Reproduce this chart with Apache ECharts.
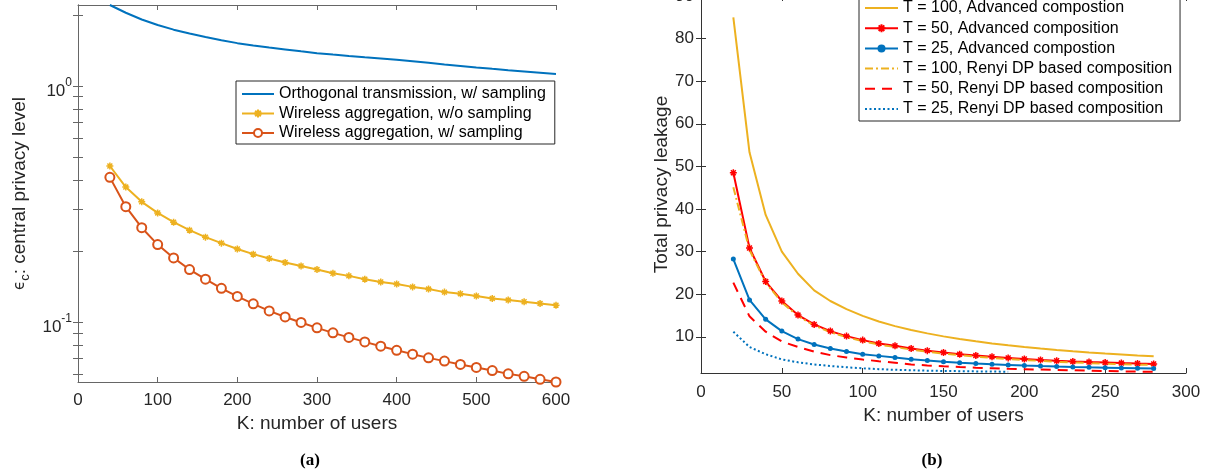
<!DOCTYPE html>
<html>
<head>
<meta charset="utf-8">
<script src="https://cdn.jsdelivr.net/npm/echarts@6/dist/echarts.min.js"></script>
<style>
  html, body { margin: 0; padding: 0; background: #ffffff; }
  #chart { width: 1211px; height: 476px; }
</style>
</head>
<body>
<div id="chart"></div>
<script>
// (a) central privacy level vs number of users
const usersA = [40, 60, 80, 100, 120, 140, 160, 180, 200, 220, 240, 260, 280, 300, 320,
  340, 360, 380, 400, 420, 440, 460, 480, 500, 520, 540, 560, 580, 600]
const orthoSampling = [2.20, 2.04, 1.91, 1.81, 1.73, 1.665, 1.61, 1.56, 1.517, 1.484, 1.454,
  1.427, 1.401, 1.376, 1.357, 1.339, 1.322, 1.306, 1.29, 1.271, 1.252, 1.233, 1.215, 1.197,
  1.181, 1.166, 1.152, 1.138, 1.124]
const wirelessNoSampling = [0.458, 0.373, 0.323, 0.290, 0.265, 0.245, 0.229, 0.216, 0.204,
  0.194, 0.186, 0.179, 0.173, 0.167, 0.161, 0.157, 0.152, 0.148, 0.145, 0.141, 0.138, 0.134,
  0.132, 0.129, 0.126, 0.124, 0.122, 0.120, 0.118]
const wirelessSampling = [0.410, 0.308, 0.251, 0.213, 0.187, 0.167, 0.152, 0.139, 0.1285,
  0.1195, 0.1116, 0.1052, 0.0997, 0.0946, 0.0901, 0.0862, 0.0825, 0.0791, 0.0760, 0.0732,
  0.0706, 0.0684, 0.0662, 0.0643, 0.0624, 0.0604, 0.0590, 0.0573, 0.0558]
const ticksA = [0.1, 1]
const minorTicksA = [0.06, 0.07, 0.08, 0.09, 0.1, 0.2, 0.3, 0.4, 0.5, 0.6, 0.7, 0.8, 0.9, 1, 2]

// (b) total privacy leakage vs number of users
const usersB = [20, 30, 40, 50, 60, 70, 80, 90, 100, 110, 120, 130, 140, 150, 160, 170, 180,
  190, 200, 210, 220, 230, 240, 250, 260, 270, 280]
const t100Adv = [85.0, 53.3, 38.6, 30.0, 24.8, 20.9, 18.4, 16.5, 14.9, 13.6, 12.5, 11.6, 10.8,
  10.1, 9.5, 8.94, 8.44, 8.0, 7.6, 7.24, 6.9, 6.6, 6.33, 6.08, 5.85, 5.63, 5.43]
const t50Adv = [48.5, 30.85, 22.97, 18.4, 15.1, 12.9, 11.34, 10.16, 9.22, 8.44, 7.88, 7.26,
  6.75, 6.3, 5.92, 5.6, 5.3, 5.05, 4.8, 4.58, 4.38, 4.22, 4.07, 3.95, 3.83, 3.72, 3.64]
const t25Adv = [28.25, 18.66, 14.1, 11.34, 9.46, 8.2, 7.26, 6.55, 5.92, 5.52, 5.14, 4.75, 4.43,
  4.15, 3.92, 3.72, 3.55, 3.4, 3.26, 3.14, 3.03, 2.93, 2.84, 2.76, 2.68, 2.61, 2.55]
const t100Renyi = [45.1, 30.4, 22.7, 18.1, 14.85, 12.65, 11.08, 9.9, 8.96, 8.18, 7.6, 7.0, 6.5,
  6.05, 5.67, 5.35, 5.05, 4.8, 4.56, 4.34, 4.14, 3.98, 3.83, 3.7, 3.58, 3.47, 3.38]
const t50Renyi = [22.7, 14.8, 11.2, 8.9, 7.6, 6.5, 5.7, 5.14, 4.67, 4.27, 3.9, 3.5, 3.28, 3.08,
  2.9, 2.75, 2.62, 2.5, 2.4, 2.3, 2.21, 2.13, 2.05, 1.98, 1.9, 1.83, 1.76]
const t25Renyi = [11.2, 7.6, 5.9, 4.7, 4.0, 3.5, 3.15, 2.85, 2.6, 2.4, 2.25, 2.15, 2.05, 1.98,
  1.93, 1.88, 1.84, 1.8]
const ticksB = [10, 20, 30, 40, 50, 60, 70, 80, 90]

const FONT = '"Liberation Sans", Arial, Helvetica, sans-serif'
const SERIF = '"Liberation Serif", "Times New Roman", serif'
const BLUE = '#0072BD'
const ORANGE = '#D95319'
const YELLOW = '#EDB120'
const RED = '#FF0000'
const STAR = 'path://M-5,0L5,0M0,-5L0,5M-3.5,-3.5L3.5,3.5M-3.5,3.5L3.5,-3.5'

const pairs = (xs, ys) => ys.map((y, i) => [xs[i], y])
// legend entry for a plain line: hide the marker in the legend icon
const lineOnly = name => ({ name: name, itemStyle: { opacity: 0 } })

const chart = echarts.init(document.getElementById('chart'))

const tickLabel = { fontFamily: FONT, fontSize: 17, color: '#262626' }
const legendText = { fontFamily: FONT, fontSize: 16, color: '#000' }

chart.setOption({
  animation: false,
  backgroundColor: '#ffffff',
  textStyle: { fontFamily: FONT },
  title: [
    { text: '(a)', left: 305, top: 447, textAlign: 'center',
      textStyle: { fontFamily: SERIF, fontWeight: 'bold', fontSize: 17, color: '#000' } },
    { text: '(b)', left: 927, top: 447, textAlign: 'center',
      textStyle: { fontFamily: SERIF, fontWeight: 'bold', fontSize: 17, color: '#000' } }
  ],
  grid: [
    { left: 78, right: 655, top: 5, bottom: 94, outerBoundsMode: 'none' },
    { left: 701, right: 25, top: -4, bottom: 103, outerBoundsMode: 'none' }
  ],
  legend: [
    {
      orient: 'vertical', left: 236, top: 81,
      data: [lineOnly('Orthogonal transmission, w/ sampling'), 'Wireless aggregation, w/o sampling',
        'Wireless aggregation, w/ sampling'],
      itemWidth: 32, itemHeight: 10, itemGap: 3.5,
      padding: [5, 9, 3, 5],
      borderColor: '#262626', borderWidth: 1, backgroundColor: '#fff',
      textStyle: legendText
    },
    {
      orient: 'vertical', left: 859, top: -5,
      data: [lineOnly('T = 100, Advanced compostion'), 'T = 50, Advanced composition',
        'T = 25, Advanced compostion', lineOnly('T = 100, Renyi DP based composition'),
        lineOnly('T = 50, Renyi DP based composition'), lineOnly('T = 25, Renyi DP based composition')],
      itemWidth: 33, itemHeight: 10, itemGap: 4.2,
      padding: [5, 8, 4, 5],
      borderColor: '#262626', borderWidth: 1, backgroundColor: '#fff',
      textStyle: legendText
    }
  ],
  xAxis: [
    {
      gridIndex: 0, type: 'value', min: 0, max: 600, interval: 100,
      name: 'K: number of users', nameLocation: 'middle', nameGap: 30,
      nameTextStyle: { fontFamily: FONT, fontSize: 19, color: '#262626' },
      axisLine: { lineStyle: { color: '#666', width: 1 } },
      axisTick: { inside: true, length: 5, lineStyle: { color: '#666' } },
      axisLabel: Object.assign({ margin: 10 }, tickLabel),
      splitLine: { show: false }
    },
    {
      gridIndex: 0, type: 'value', min: 0, max: 600, interval: 100, position: 'top',
      axisLine: { lineStyle: { color: '#666', width: 1 } },
      axisTick: { inside: true, length: 5, lineStyle: { color: '#666' } },
      axisLabel: { show: false }, splitLine: { show: false }
    },
    {
      gridIndex: 1, type: 'value', min: 0, max: 300, interval: 50,
      name: 'K: number of users', nameLocation: 'middle', nameGap: 31,
      nameTextStyle: { fontFamily: FONT, fontSize: 19, color: '#262626' },
      axisLine: { lineStyle: { color: '#333', width: 1 } },
      axisTick: { inside: true, length: 5, lineStyle: { color: '#333' } },
      axisLabel: Object.assign({ margin: 11 }, tickLabel),
      splitLine: { show: false }
    },
    {
      gridIndex: 1, type: 'value', min: 0, max: 300, interval: 50, position: 'top',
      axisLine: { lineStyle: { color: '#333', width: 1 } },
      axisTick: { inside: true, length: 5, lineStyle: { color: '#333' } },
      axisLabel: { show: false }, splitLine: { show: false }
    }
  ],
  yAxis: [
    {
      gridIndex: 0, type: 'log', logBase: 10, min: 0.0558, max: 2.2,
      name: '{e|ϵ}{sub|c}{t|: central privacy level}', nameLocation: 'middle', nameGap: 46,
      nameTextStyle: {
        fontFamily: FONT, fontSize: 19, color: '#262626',
        rich: {
          e: { fontFamily: '"DejaVu Sans", ' + FONT, fontSize: 15, color: '#262626', lineHeight: 24 },
          sub: { fontFamily: FONT, fontSize: 13, color: '#262626', lineHeight: 12, verticalAlign: 'bottom' },
          t: { fontFamily: FONT, fontSize: 19, color: '#262626', lineHeight: 24 }
        }
      },
      axisLine: { lineStyle: { color: '#666', width: 1 } },
      axisTick: { inside: true, length: 5, lineStyle: { color: '#666' }, customValues: minorTicksA },
      axisLabel: {
        margin: 6, customValues: ticksA,
        formatter: v => '{b|10}{s|' + Math.round(Math.log10(v)) + '}',
        rich: {
          b: { fontFamily: FONT, fontSize: 17, color: '#262626', padding: [10, 0, 0, 0] },
          s: { fontFamily: FONT, fontSize: 12, color: '#262626', padding: [0, 0, 6, 0] }
        }
      },
      splitLine: { show: false }
    },
    {
      gridIndex: 0, type: 'log', logBase: 10, min: 0.0558, max: 2.2, position: 'right',
      axisLine: { lineStyle: { color: '#666', width: 1 } },
      axisTick: { inside: true, length: 5, lineStyle: { color: '#666' }, customValues: minorTicksA },
      axisLabel: { show: false }, splitLine: { show: false }
    },
    {
      gridIndex: 1, type: 'value', min: 1.5, max: 90,
      name: 'Total privacy leakage', nameLocation: 'middle', nameGap: 30,
      nameTextStyle: { fontFamily: FONT, fontSize: 19, color: '#262626' },
      axisLine: { lineStyle: { color: '#333', width: 1 } },
      axisTick: { inside: true, length: 5, lineStyle: { color: '#333' }, customValues: ticksB },
      axisLabel: Object.assign({ margin: 7, customValues: ticksB }, tickLabel),
      splitLine: { show: false }
    },
    {
      gridIndex: 1, type: 'value', min: 1.5, max: 90, position: 'right',
      axisLine: { lineStyle: { color: '#333', width: 1 } },
      axisTick: { inside: true, length: 5, lineStyle: { color: '#333' }, customValues: ticksB },
      axisLabel: { show: false }, splitLine: { show: false }
    }
  ],
  series: [
    {
      name: 'Orthogonal transmission, w/ sampling', type: 'line', xAxisIndex: 0, yAxisIndex: 0,
      data: pairs(usersA, orthoSampling), symbol: 'none', color: BLUE,
      lineStyle: { color: BLUE, width: 2 }
    },
    {
      name: 'Wireless aggregation, w/o sampling', type: 'line', xAxisIndex: 0, yAxisIndex: 0,
      data: pairs(usersA, wirelessNoSampling), symbol: STAR, symbolSize: 7, color: YELLOW,
      itemStyle: { color: YELLOW, borderColor: YELLOW, borderWidth: 1.5 },
      lineStyle: { color: YELLOW, width: 2 }
    },
    {
      name: 'Wireless aggregation, w/ sampling', type: 'line', xAxisIndex: 0, yAxisIndex: 0,
      data: pairs(usersA, wirelessSampling), symbol: 'emptyCircle', symbolSize: 9, color: ORANGE,
      itemStyle: { color: ORANGE, borderColor: ORANGE, borderWidth: 1.6 },
      lineStyle: { color: ORANGE, width: 2 }
    },
    {
      name: 'T = 100, Advanced compostion', type: 'line', xAxisIndex: 2, yAxisIndex: 2,
      data: pairs(usersB, t100Adv), symbol: 'none', color: YELLOW,
      lineStyle: { color: YELLOW, width: 2 }
    },
    {
      name: 'T = 50, Advanced composition', type: 'line', xAxisIndex: 2, yAxisIndex: 2,
      data: pairs(usersB, t50Adv), symbol: STAR, symbolSize: 7, color: RED,
      itemStyle: { color: RED, borderColor: RED, borderWidth: 1.5 },
      lineStyle: { color: RED, width: 2 }
    },
    {
      name: 'T = 25, Advanced compostion', type: 'line', xAxisIndex: 2, yAxisIndex: 2,
      data: pairs(usersB, t25Adv), symbol: 'circle', symbolSize: 5, color: BLUE,
      itemStyle: { color: BLUE },
      lineStyle: { color: BLUE, width: 2 }
    },
    {
      name: 'T = 100, Renyi DP based composition', type: 'line', xAxisIndex: 2, yAxisIndex: 2,
      data: pairs(usersB, t100Renyi), symbol: 'none', color: YELLOW,
      lineStyle: { color: YELLOW, width: 2, type: [8, 3, 2, 3] }
    },
    {
      name: 'T = 50, Renyi DP based composition', type: 'line', xAxisIndex: 2, yAxisIndex: 2,
      data: pairs(usersB, t50Renyi), symbol: 'none', color: RED,
      lineStyle: { color: RED, width: 2, type: [10, 7] }
    },
    {
      name: 'T = 25, Renyi DP based composition', type: 'line', xAxisIndex: 2, yAxisIndex: 2,
      data: pairs(usersB, t25Renyi), symbol: 'none', color: BLUE,
      lineStyle: { color: BLUE, width: 2, type: [2, 2.5] }
    }
  ]
})
</script>
</body>
</html>
